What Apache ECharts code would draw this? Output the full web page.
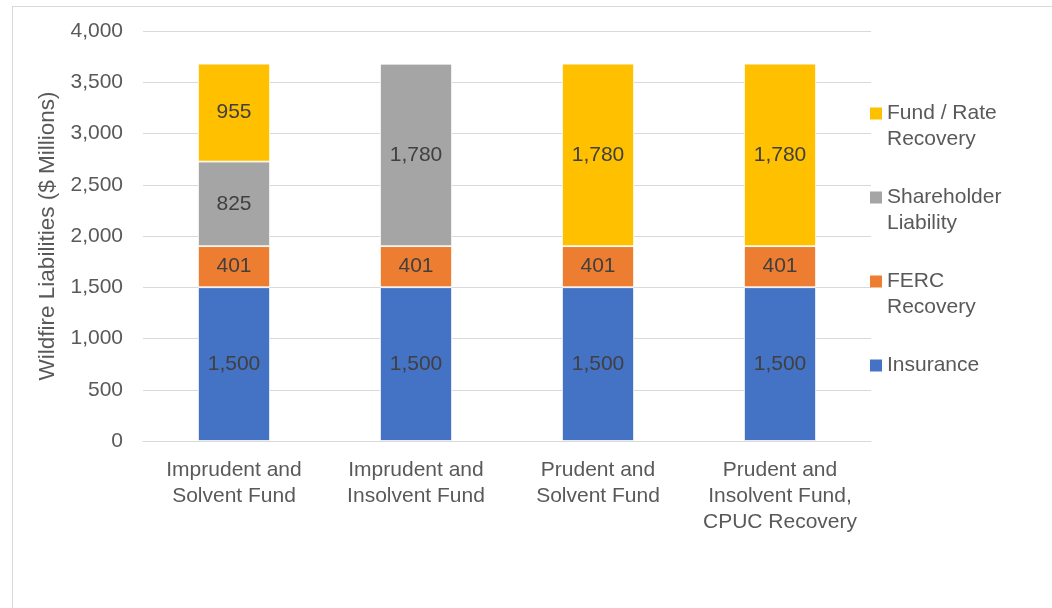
<!DOCTYPE html>
<html>
<head>
<meta charset="utf-8">
<script src="https://cdn.jsdelivr.net/npm/echarts@6/dist/echarts.min.js"></script>
<style>
  html, body { margin: 0; padding: 0; background: #fff; }
  #frame { position: absolute; left: 12px; top: 6px; width: 1100px; height: 700px; border: 1px solid #d9d9d9; }
  #chart { position: absolute; left: 0; top: 0; width: 1052px; height: 608px; }
</style>
</head>
<body>
<div id="frame"></div>
<div id="chart"></div>
<script>
const categories = [
  'Imprudent and\nSolvent Fund',
  'Imprudent and\nInsolvent Fund',
  'Prudent and\nSolvent Fund',
  'Prudent and\nInsolvent Fund,\nCPUC Recovery',
];
const insurance = [1500, 1500, 1500, 1500];
const fercRecovery = [401, 401, 401, 401];
const shareholderLiability = [825, 1780, 0, 0];
const fundRateRecovery = [955, 0, 1780, 1780];

const seriesDefs = [
  { name: 'Insurance', label: ['Insurance'], data: insurance, color: '#4472C4' },
  { name: 'FERC Recovery', label: ['FERC', 'Recovery'], data: fercRecovery, color: '#ED7D31' },
  { name: 'Shareholder Liability', label: ['Shareholder', 'Liability'], data: shareholderLiability, color: '#A5A5A5' },
  { name: 'Fund / Rate Recovery', label: ['Fund / Rate', 'Recovery'], data: fundRateRecovery, color: '#FFC000' },
];

const fmt = v => Number(v).toLocaleString('en-US');

const rich = { t: { fontSize: 21, color: '#595959', lineHeight: 26, fontFamily: 'Liberation Sans' }, g: { width: 17 } };
seriesDefs.forEach((s, i) => {
  rich['s' + i] = { width: 12, height: 12, backgroundColor: s.color };
  rich['p' + i] = { width: 5 };
});

const chart = echarts.init(document.getElementById('chart'));

chart.setOption({
  animation: false,
  textStyle: { fontFamily: 'Liberation Sans' },
  grid: { left: 143, right: 181, top: 31, bottom: 167 },
  legend: {
    orient: 'vertical',
    left: 860,
    top: 98,
    itemGap: 37,
    icon: 'none',
    itemWidth: 0,
    itemHeight: 0,
    data: seriesDefs.map(s => s.name).reverse(),
    formatter: name => {
      const i = seriesDefs.findIndex(s => s.name === name);
      const lines = seriesDefs[i].label;
      let out = '{s' + i + '|}{p' + i + '|}{t|' + lines[0] + '}';
      for (let k = 1; k < lines.length; k++) out += '\n{g|}{t|' + lines[k] + '}';
      return out;
    },
    textStyle: { rich: rich, padding: 0 },
  },
  xAxis: {
    type: 'category',
    data: categories,
    axisLine: { lineStyle: { color: '#d9d9d9', width: 1 } },
    axisTick: { show: false },
    axisLabel: { color: '#595959', fontSize: 21, lineHeight: 26, margin: 16, interval: 0 },
  },
  yAxis: {
    type: 'value',
    min: 0,
    max: 4000,
    interval: 500,
    name: 'Wildfire Liabilities ($ Millions)',
    nameLocation: 'middle',
    nameRotate: 90,
    nameGap: 77,
    nameTextStyle: { color: '#595959', fontSize: 22.5 },
    axisLine: { show: false },
    axisTick: { show: false },
    axisLabel: { color: '#595959', fontSize: 21, margin: 20, formatter: fmt },
    splitLine: { lineStyle: { color: '#d9d9d9', width: 1 } },
  },
  series: seriesDefs.map(s => ({
    name: s.name,
    type: 'bar',
    stack: 'total',
    barWidth: 72,
    data: s.data,
    itemStyle: { color: s.color, borderColor: '#fff', borderWidth: 0.8 },
    label: {
      show: true,
      position: 'inside',
      color: '#404040',
      fontSize: 21,
      formatter: p => (p.value ? fmt(p.value) : ''),
    },
  })),
});
</script>
</body>
</html>
